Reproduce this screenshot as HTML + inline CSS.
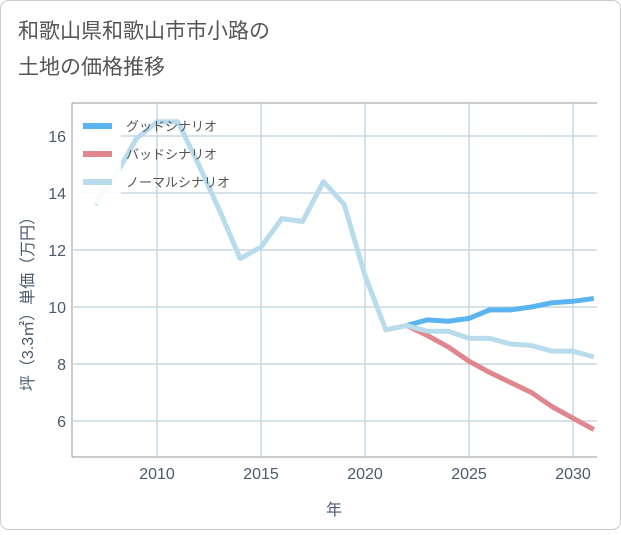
<!DOCTYPE html>
<html><head><meta charset="utf-8">
<style>
body{margin:0;background:#fff;}
#wrap{width:621px;height:530px;position:relative;font-family:"Liberation Sans","Noto Sans CJK JP",sans-serif;}
</style></head>
<body>
<div id="wrap">
<svg id="chart" width="621" height="530">
<rect x="0.5" y="0.5" width="620" height="529" rx="8" fill="#fff" stroke="#ccc"/>
<text x="18" y="38" font-size="21" fill="#555">和歌山県和歌山市市小路の</text>
<text x="18" y="74" font-size="21" fill="#555">土地の価格推移</text>
<g id="grid"></g>
<g id="axes"></g>
<g id="lines"></g>
<g id="legend"></g>
</svg>
</div>
<script>
const years=[2007,2008,2009,2010,2011,2012,2013,2014,2015,2016,2017,2018,2019,2020,2021,2022,2023,2024,2025,2026,2027,2028,2029,2030,2031];
const normalValues=[13.6,14.6,15.9,16.5,16.5,15.0,13.4,11.7,12.1,13.1,13.0,14.4,13.6,11.1,9.2,9.35,9.15,9.15,8.9,8.9,8.7,8.65,8.45,8.45,8.25];
const goodYears=[2022,2023,2024,2025,2026,2027,2028,2029,2030,2031];
const goodValues=[9.35,9.55,9.5,9.6,9.9,9.9,10.0,10.15,10.2,10.3];
const badValues=[9.35,9.0,8.6,8.1,7.7,7.35,7.0,6.5,6.1,5.7];
const xTicks=[2010,2015,2020,2025,2030];
const yTicks=[6,8,10,12,14,16];
const legendLabels=["グッドシナリオ","バッドシナリオ","ノーマルシナリオ"];
const L=72,R=597,T=103,B=457;
const x=v=>157+(v-2010)*20.8;
const y=v=>307-(v-10)*28.5;
const NS="http://www.w3.org/2000/svg";
function mk(tag,attrs,parent){const e=document.createElementNS(NS,tag);for(const k in attrs)e.setAttribute(k,attrs[k]);parent.appendChild(e);return e;}
const grid=document.getElementById('grid'),axes=document.getElementById('axes'),lines=document.getElementById('lines'),leg=document.getElementById('legend');
mk('line',{x1:L,x2:R,y1:T,y2:T,stroke:'#999','stroke-width':1},grid);
mk('line',{x1:L,x2:L,y1:T,y2:B,stroke:'#999','stroke-width':1},grid);
mk('line',{x1:L,x2:R,y1:B,y2:B,stroke:'#999','stroke-width':1},grid);
const tc='#4a5b6e';
xTicks.forEach(t=>{
 const g=mk('line',{x1:x(t),x2:x(t),y1:T,y2:B,stroke:'#c8d8e4','stroke-width':1.5},grid);
 
 const tx=mk('text',{x:x(t),y:479,'font-size':16,fill:tc,'text-anchor':'middle'},axes);tx.textContent=t;
 
});
yTicks.forEach(t=>{
 const g=mk('line',{x1:L,x2:R,y1:y(t),y2:y(t),stroke:'#c8d8e4','stroke-width':1.5},grid);
 
 const tx=mk('text',{x:66,y:y(t)+6,'font-size':16,fill:tc,'text-anchor':'end'},axes);tx.textContent=t;
 
});
const xt=mk('text',{x:334,y:515,'font-size':16,fill:tc,'text-anchor':'middle'},axes);xt.textContent='年';

const yt=mk('text',{x:0,y:0,'font-size':16,fill:tc,'text-anchor':'middle',transform:'translate(33,300) rotate(-90)'},axes);yt.textContent='坪（3.3㎡）単価（万円）';

function line(xs,vs,color,name){
 const d=xs.map((t,i)=>(i?'L':'M')+x(t)+','+y(vs[i])).join(' ');
 const p=mk('path',{d:d,fill:'none',stroke:color,'stroke-width':5,'stroke-linejoin':'round'},lines);
 
}
line(goodYears,badValues,'#e0868e','bad-scenario-line');
line(goodYears,goodValues,'#5ab4ef','good-scenario-line');
line(years,normalValues,'#b8dcec','normal-scenario-line');
mk('rect',{x:73,y:104,width:48,height:100,fill:'#fff','fill-opacity':0.9},leg);
const colors=['#5ab4ef','#e0868e','#b8dcec'];
legendLabels.forEach((lab,i)=>{
 const yy=126+i*28;
 const s=mk('line',{x1:83,x2:112,y1:yy,y2:yy,stroke:colors[i],'stroke-width':6},leg);
 
 const t=mk('text',{x:126,y:yy+5,'font-size':13,fill:'#555'},leg);t.textContent=lab;
 
});
</script>
</body></html>
